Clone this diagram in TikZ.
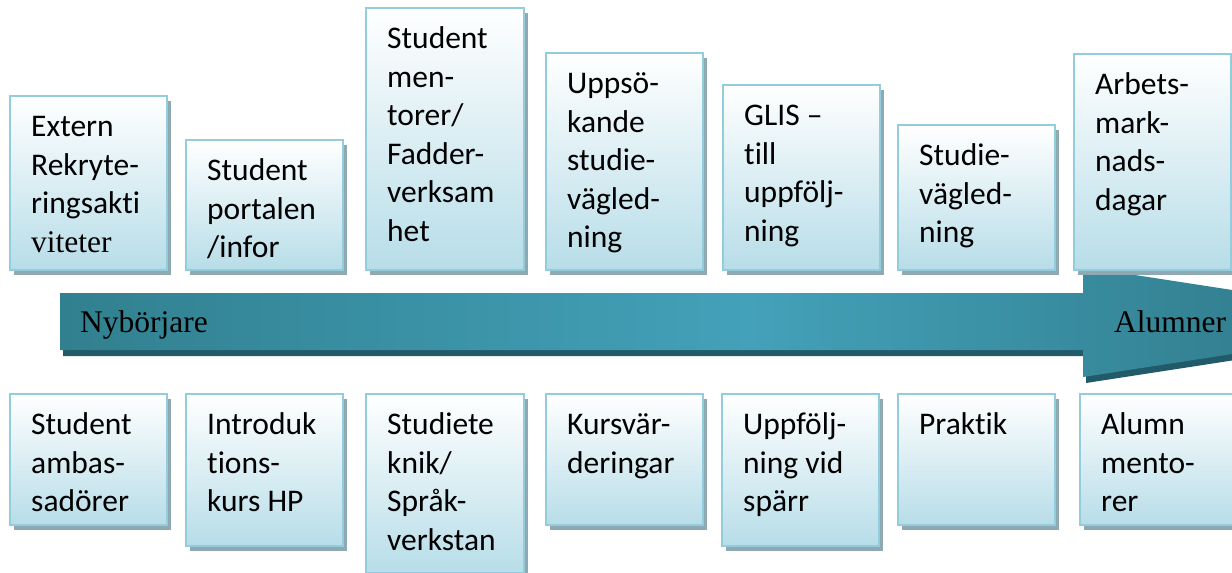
\documentclass[tikz,border=0pt]{standalone}
\usepackage{fontspec}
\setmainfont{Carlito}[Ligatures=NoCommon]
\newfontfamily\timesfont{Liberation Serif}
\usetikzlibrary{positioning,shadows}
\definecolor{boxline}{HTML}{93CDDD}
\definecolor{boxbot}{HTML}{B7DDE8}
\definecolor{boxshadow}{HTML}{8EA9B1}
\definecolor{arrowdark}{HTML}{31808F}
\definecolor{arrowlight}{HTML}{43A1B9}
\definecolor{arrowshadow}{HTML}{215A69}

\begin{document}
\begin{tikzpicture}
  [x=1pt,y=-1pt,
   box/.style={rectangle,draw=boxline,line width=2pt,top color=white,bottom color=boxbot,
     minimum width=157,anchor=north west,inner sep=0,
     drop shadow={shadow xshift=4pt,shadow yshift=-5pt,fill=boxshadow,opacity=1}},
   txt/.style={inner sep=0,align=left,font=\fontsize{31.5}{38.5}\selectfont},
   lbl/.style={inner sep=0,anchor=base west,font=\timesfont\fontsize{31.5}{38.5}\selectfont}]
  \path[use as bounding box] (0,0) rectangle (1232,573);
  \clip (0,0) rectangle (1232,573);

  \fill[arrowshadow] (63,299) -- (1086,299) -- (1086,273) -- (1443,328) -- (1086,383) -- (1086,356) -- (63,356) -- cycle;
  \shade[left color=arrowdark,right color=arrowdark!90!black,middle color=arrowlight]
    (60,293) -- (1083,293) -- (1083,267) -- (1440,322) -- (1083,377) -- (1083,350) -- (60,350) -- cycle;
  \node[lbl] (start) at (80,332) {Nybörjare};
  \node[lbl] (end) at (1114,332) {Alumner};

  \node[box,minimum height=174] (u1) at (9,95) {};
  \node[box,minimum height=130] (u2) at (185,139) {};
  \node[box,minimum height=262,minimum width=158] (u3) at (365,7) {};
  \node[box,minimum height=217] (u4) at (545,52) {};
  \node[box,minimum height=185] (u5) at (722,84) {};
  \node[box,minimum height=145] (u6) at (897,124) {};
  \node[box,minimum height=216] (u7) at (1073,53) {};

  \node[box,minimum height=131] (l1) at (9,393) {};
  \node[box,minimum height=152] (l2) at (185,393) {};
  \node[box,minimum height=179,minimum width=158] (l3) at (365,393) {};
  \node[box,minimum height=131] (l4) at (545,393) {};
  \node[box,minimum height=152] (l5) at (721,393) {};
  \node[box,minimum height=131] (l6) at (897,393) {};
  \node[box,minimum height=131] (l7) at (1079,393) {};

  \node[txt,below right=14.5pt and 22pt of u1.north west] (u1t) {\strut Extern\\Rekryte-\\ringsakti\\{\timesfont viteter}};
  \node[txt,below right=14.5pt and 22pt of u2.north west] (u2t) {\strut Student\\portalen\\/infor};
  \node[txt,below right=14.5pt and 22pt of u3.north west] (u3t) {\strut Student\\men-\\torer/\\Fadder-\\verksam\\het};
  \node[txt,below right=14.5pt and 22pt of u4.north west] (u4t) {\strut Uppsö-\\kande\\studie-\\vägled-\\ning};
  \node[txt,below right=14.5pt and 22pt of u5.north west] (u5t) {\strut GLIS –\\till\\uppfölj-\\ning};
  \node[txt,below right=14.5pt and 22pt of u6.north west] (u6t) {\strut Studie-\\vägled-\\ning};
  \node[txt,below right=14.5pt and 22pt of u7.north west] (u7t) {\strut Arbets-\\mark-\\nads-\\dagar};

  \node[txt,below right=14.5pt and 22pt of l1.north west] (l1t) {\strut Student\\ambas-\\sadörer};
  \node[txt,below right=14.5pt and 22pt of l2.north west] (l2t) {\strut Introduk\\tions-\\kurs HP};
  \node[txt,below right=14.5pt and 22pt of l3.north west] (l3t) {\strut Studiete\\knik/\\Språk-\\verkstan};
  \node[txt,below right=14.5pt and 22pt of l4.north west] (l4t) {\strut Kursvär-\\deringar};
  \node[txt,below right=14.5pt and 22pt of l5.north west] (l5t) {\strut Uppfölj-\\ning vid\\spärr};
  \node[txt,below right=14.5pt and 22pt of l6.north west] (l6t) {\strut Praktik};
  \node[txt,below right=14.5pt and 22pt of l7.north west] (l7t) {\strut Alumn\\mento-\\rer};

\end{tikzpicture}
\end{document}
